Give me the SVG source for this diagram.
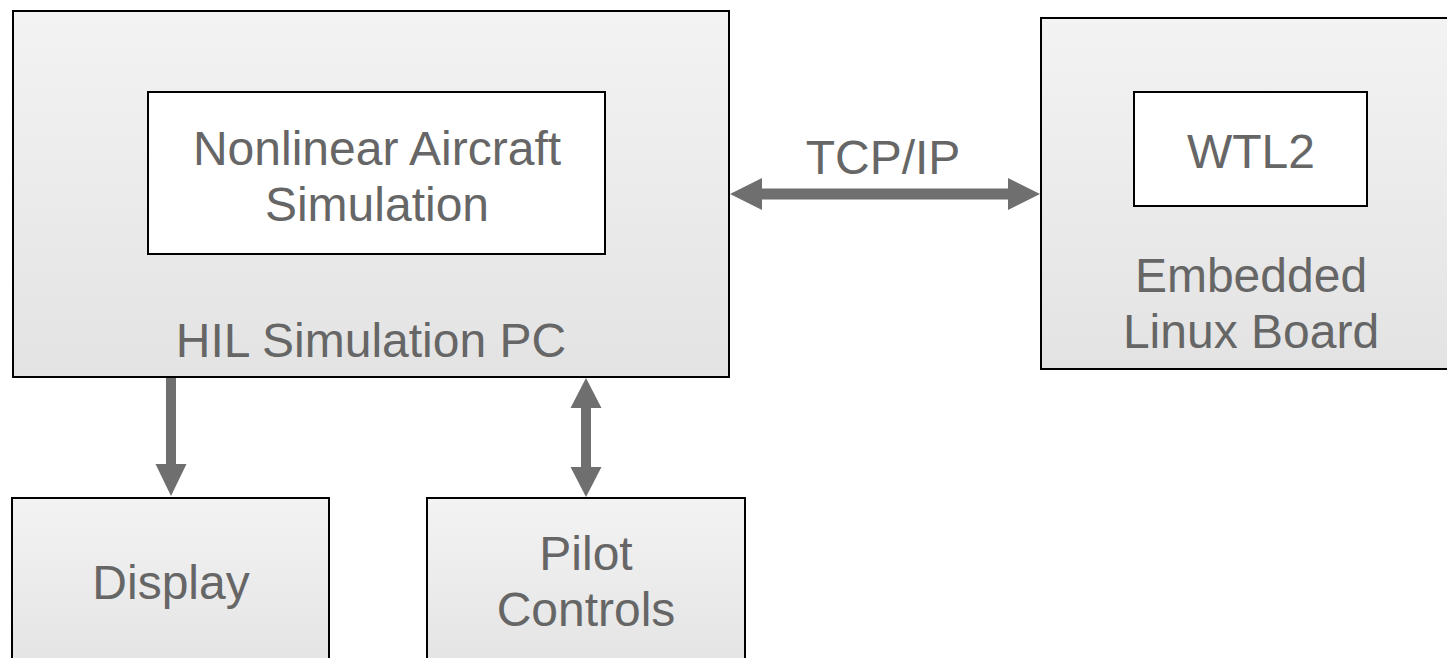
<svg xmlns="http://www.w3.org/2000/svg" width="1447" height="658" viewBox="0 0 1447 658">
<defs>
<linearGradient id="g" x1="0" y1="0" x2="0" y2="1">
<stop offset="0" stop-color="#f3f3f3"/>
<stop offset="1" stop-color="#e3e3e3"/>
</linearGradient>
<style>
.box{fill:url(#g);stroke:#000;stroke-width:2}
.inner{fill:#fff;stroke:#000;stroke-width:2}
.t{font-family:"Liberation Sans",Arial,sans-serif;font-size:48px;fill:#666;text-anchor:middle}
.arr{fill:#6f6f6f;stroke:none}
</style>
</defs>
<rect width="1447" height="658" fill="#fff"/>
<g id="hil">
<rect class="box" x="13" y="11" width="716" height="366"/>
<text class="t" x="371" y="357">HIL Simulation PC</text>
</g>
<g id="nas">
<rect class="inner" x="148" y="92" width="457" height="162"/>
<text class="t" x="377" y="165">Nonlinear Aircraft</text>
<text class="t" x="377" y="221">Simulation</text>
</g>
<g id="board">
<rect class="box" x="1041" y="18" width="420" height="351"/>
<text class="t" x="1251" y="292">Embedded</text>
<text class="t" x="1251" y="348">Linux Board</text>
</g>
<g id="wtl2">
<rect class="inner" x="1134" y="92" width="233" height="114"/>
<text class="t" x="1251" y="168">WTL2</text>
</g>
<g id="display">
<rect class="box" x="12" y="498" width="317" height="180"/>
<text class="t" x="171" y="599">Display</text>
</g>
<g id="pilot">
<rect class="box" x="427" y="498" width="318" height="180"/>
<text class="t" x="586" y="570">Pilot</text>
<text class="t" x="586" y="626">Controls</text>
</g>
<g id="connectors">
<path class="arr" d="M730,194 L762,178 L762,188.5 L1008,188.5 L1008,178 L1040,194 L1008,210 L1008,199.5 L762,199.5 L762,210 Z"/>
<text class="t" x="883" y="174">TCP/IP</text>
<path class="arr" d="M166,378 L176,378 L176,464 L186.5,464 L171,496 L155.5,464 L166,464 Z"/>
<path class="arr" d="M586,378 L601.5,408 L591,408 L591,467 L601.5,467 L586,497 L570.5,467 L581,467 L581,408 L570.5,408 Z"/>
</g>
</svg>
